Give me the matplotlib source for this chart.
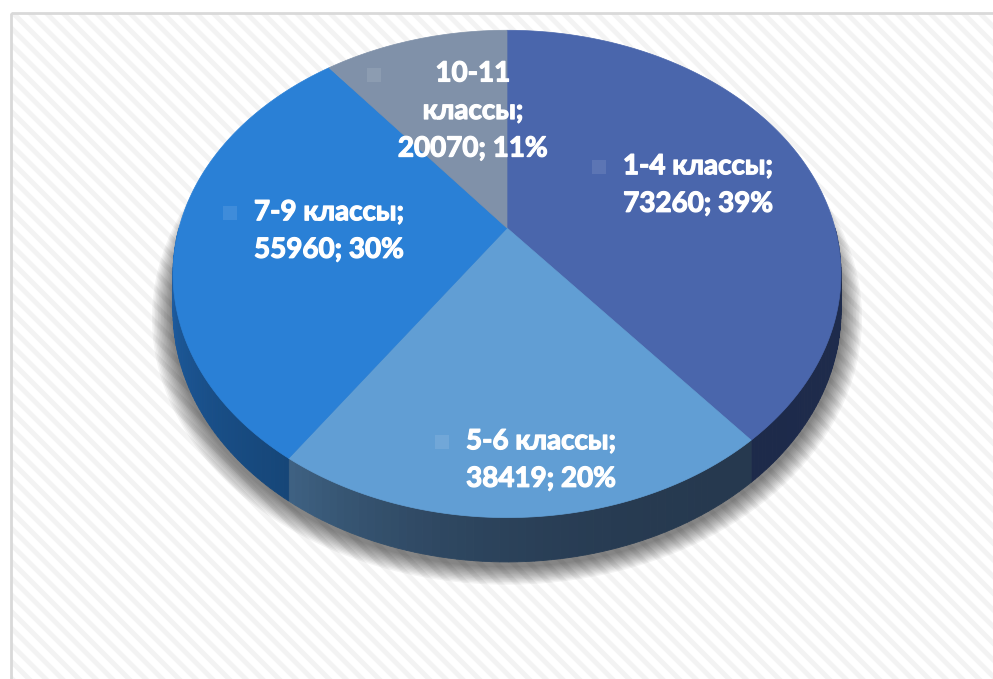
import numpy as np
import matplotlib.pyplot as plt
import matplotlib.patheffects as pe
from matplotlib.patches import Polygon, Rectangle
from matplotlib.colors import to_rgb

categories = ["1-4 классы", "5-6 классы", "7-9 классы", "10-11 классы"]
values = [73260, 38419, 55960, 20070]
percents = ["39%", "20%", "30%", "11%"]

top_colors = ["#4a66ac", "#619ed4", "#2a80d6", "#8091a9"]
# side wall gradient: colour at the left end, colour at the right end
side_left = ["#1d2a4a", "#3e6283", "#1e60a8", "#56657a"]
side_right = ["#1f2c4d", "#26394f", "#164678", "#56657a"]

W, H = 993, 679
fig = plt.figure(figsize=(W / 100, H / 100), dpi=100)
ax = fig.add_axes([0, 0, 1, 1])
ax.set_xlim(0, W)
ax.set_ylim(H, 0)
ax.axis("off")

# background with diagonal stripes
plt.rcParams["hatch.linewidth"] = 3.5
ax.add_patch(Rectangle((11, 13), W, H, facecolor="white", edgecolor="#f3f3f3",
                       lw=0, hatch="\\\\", zorder=0))
ax.add_patch(Rectangle((11, 13), W, H, facecolor="none", edgecolor="#d9d9d9",
                       lw=2, zorder=1))

# perspective projection of the pie disc
cx, cy = 507, 228
A, B, k = 328, 235, 0.1885
depth = 36


def proj(theta, r=1.0, z=0.0):
    u = r * np.sin(theta)
    v = -r * np.cos(theta)
    w = 1 - k * v
    return cx + A * u / w, cy + B * v / w + z / w


fracs = np.array(values) / sum(values)
bounds = np.concatenate([[0], np.cumsum(fracs)]) * 2 * np.pi

# soft shadow under the pie
t_all = np.linspace(0, 2 * np.pi, 300)
bx, by = proj(t_all, 1.0, depth)
for i in range(14):
    s = 1.0 + 0.0045 * (14 - i)
    pts = np.column_stack([cx + (bx - cx) * s, cy + depth + (by - cy - depth) * s + 4])
    ax.add_patch(Polygon(pts, closed=True, facecolor="#000000", alpha=0.045,
                         lw=0, zorder=2))

# side walls (only the near half is visible)
lo, hi = np.pi / 2, 3 * np.pi / 2
for i in range(len(values)):
    a0, a1 = max(bounds[i], lo), min(bounds[i + 1], hi)
    if a1 <= a0:
        continue
    n = 60
    ts = np.linspace(a0, a1, n + 1)
    cl, cr = np.array(to_rgb(side_left[i])), np.array(to_rgb(side_right[i]))
    for j in range(n):
        t0, t1 = ts[j], ts[j + 1]
        x0, y0 = proj(t0)
        x1, y1 = proj(t1)
        x2, y2 = proj(t1, 1.0, depth)
        x3, y3 = proj(t0, 1.0, depth)
        # position along the wall, 0 = right end, 1 = left end
        p = ((t0 + t1) / 2 - a0) / (a1 - a0)
        if i == 1:
            p = p ** 2.5
        col = cr + (cl - cr) * p
        ax.add_patch(Polygon([(x0, y0), (x1, y1), (x2, y2), (x3, y3)], closed=True,
                             facecolor=col, edgecolor=col, lw=0.6, zorder=3))

# top faces
for i in range(len(values)):
    ts = np.linspace(bounds[i], bounds[i + 1], 200)
    xs, ys = proj(ts)
    pts = np.column_stack([np.concatenate([[cx], xs]), np.concatenate([[cy], ys])])
    ax.add_patch(Polygon(pts, closed=True, facecolor=top_colors[i],
                         edgecolor=top_colors[i], lw=0.5, zorder=4))

# data labels with legend keys
label_xy = [(698, 185), (541, 460), (329, 231), (473, 111)]
label_lines = [
    ["1-4 классы;", "73260; 39%"],
    ["5-6 классы;", "38419; 20%"],
    ["7-9 классы;", "55960; 30%"],
    ["10-11", "классы;", "20070; 11%"],
]
for i, (name, val, pct) in enumerate(zip(categories, values, percents)):
    lines = label_lines[i]
    x, y = label_xy[i]
    txt = ax.text(x, y, "\n".join(lines), ha="center", va="center", color="white",
                  fontsize=20, fontweight="bold", family="Lato", linespacing=1.55,
                  zorder=6,
                  path_effects=[pe.withStroke(linewidth=0.9, foreground="white")])
    fig.canvas.draw()
    bb = txt.get_window_extent()
    (left, top), (right, bottom) = ax.transData.inverted().transform(
        [(bb.x0, bb.y1), (bb.x1, bb.y0)])
    line_h = (bottom - top) / len(lines)
    mx = left - 24
    my = top + line_h / 2 - 2
    ax.add_patch(Rectangle((mx - 7, my - 7), 14, 14, facecolor="white", alpha=0.1,
                           lw=0, zorder=5))

fig.savefig("out.png", dpi=100)
